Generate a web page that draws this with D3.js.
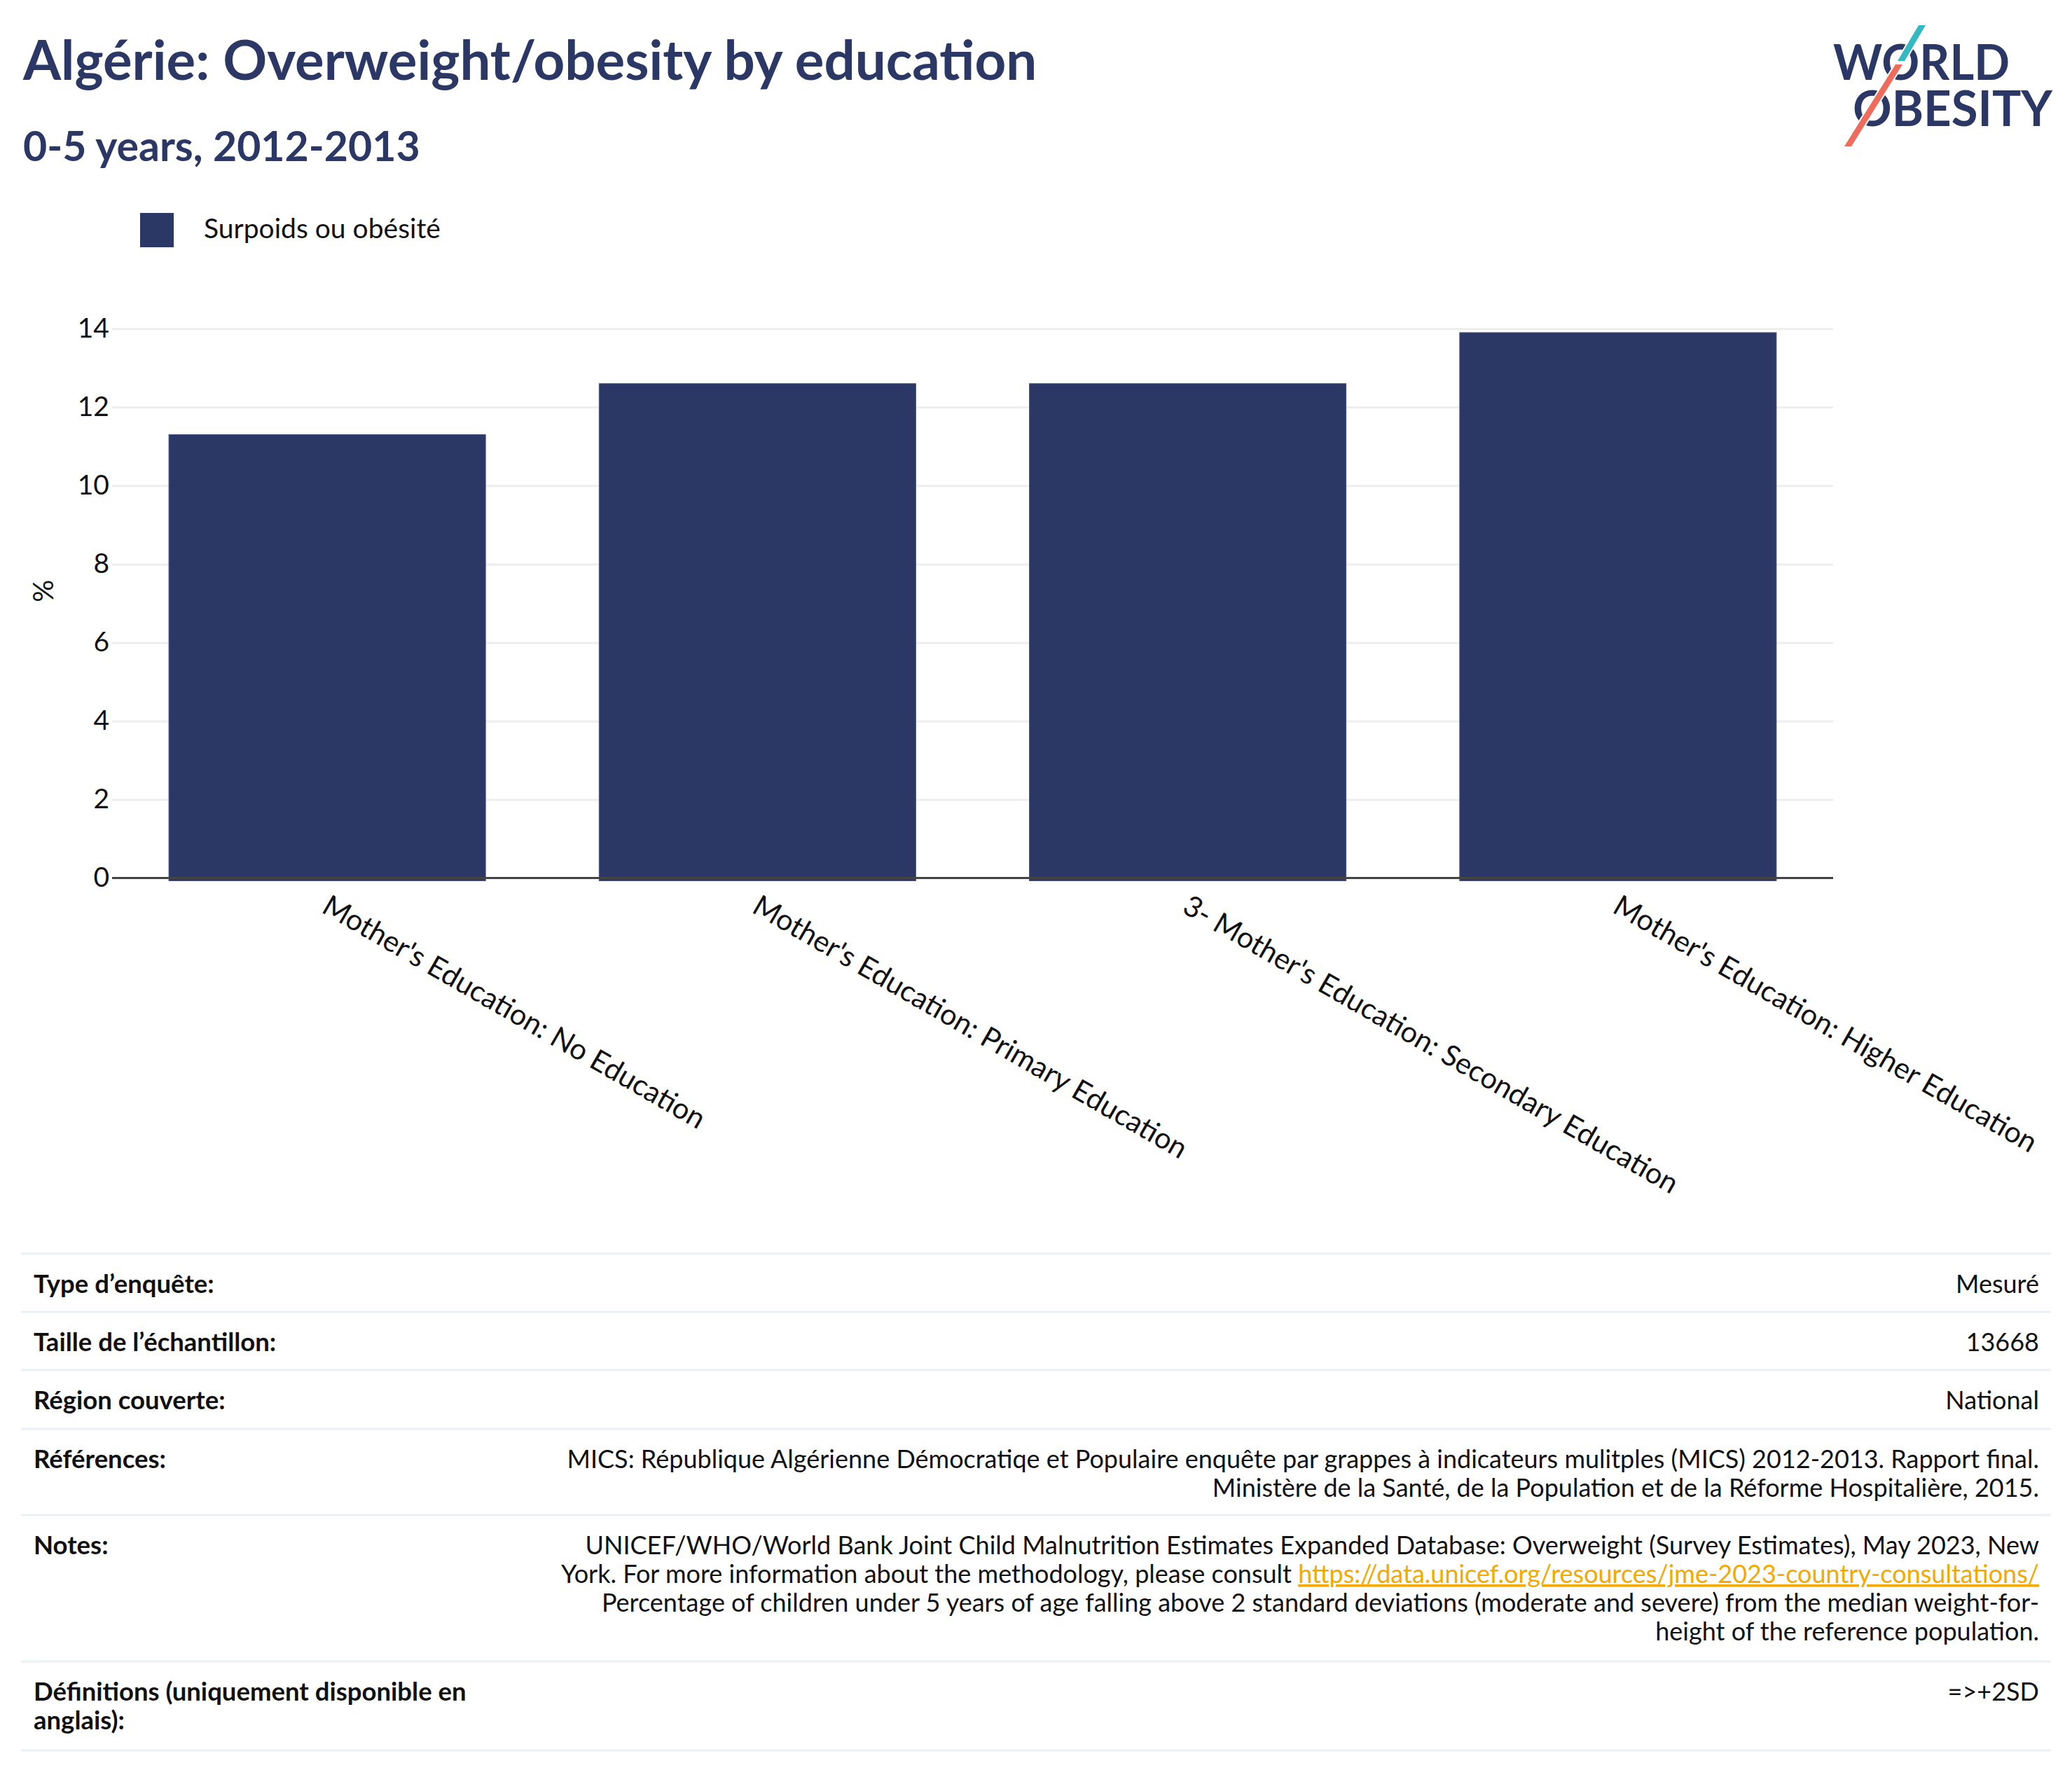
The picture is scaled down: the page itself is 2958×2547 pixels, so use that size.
<!DOCTYPE html>
<html>
<head>
<meta charset="utf-8">
<script src="https://cdn.jsdelivr.net/npm/d3@7"></script>
<style>
  body { margin: 0; background: #fff; }
  text { font-family: Lato, "Noto Sans", sans-serif; }
</style>
</head>
<body>
<div id="chart"></div>
<script>
//------------------------------------------------------
// Données
//------------------------------------------------------
const title = "Algérie: Overweight/obesity by education";
const subtitle = "0-5 years, 2012-2013";
const seriesName = "Surpoids ou obésité";

const categories = [
  "Mother's Education: No Education",
  "Mother's Education: Primary Education",
  "3- Mother's Education: Secondary Education",
  "Mother's Education: Higher Education"
];
const values = [11.3, 12.6, 12.6, 13.9];
const yTicks = [0, 2, 4, 6, 8, 10, 12, 14];

const tableLabels = [
  ["Type d’enquête:"],
  ["Taille de l’échantillon:"],
  ["Région couverte:"],
  ["Références:"],
  ["Notes:"],
  ["Définitions (uniquement disponible en", "anglais):"]
];
// chaque ligne = liste de morceaux [texte, lien?]
const tableValues = [
  [[["Mesuré"]]],
  [[["13668"]]],
  [[["National"]]],
  [
    [["MICS: République Algérienne Démocratiqe et Populaire enquête par grappes à indicateurs mulitples (MICS) 2012-2013. Rapport final."]],
    [["Ministère de la Santé, de la Population et de la Réforme Hospitalière, 2015."]]
  ],
  [
    [["UNICEF/WHO/World Bank Joint Child Malnutrition Estimates Expanded Database: Overweight (Survey Estimates), May 2023, New"]],
    [["York. For more information about the methodology, please consult "], ["https://data.unicef.org/resources/jme-2023-country-consultations/", true]],
    [["Percentage of children under 5 years of age falling above 2 standard deviations (moderate and severe) from the median weight-for-"]],
    [["height of the reference population."]]
  ],
  [[["=>+2SD"]]]
];
const rowHeights = [83, 83, 84, 123, 209, 127];

//------------------------------------------------------
// Mise en page
//------------------------------------------------------
const width = 2958;
const height = 2547;
const navy = "#2b3765";

const svg = d3.select("#chart").append("svg")
  .attr("width", width)
  .attr("height", height)
  .attr("viewBox", [0, 0, width, height]);

// Titres
svg.append("text")
  .attr("x", 33).attr("y", 114)
  .attr("fill", navy)
  .attr("font-size", 78)
  .attr("font-weight", 700)
  .text(title);

svg.append("text")
  .attr("x", 33).attr("y", 230)
  .attr("fill", navy)
  .attr("font-size", 59)
  .attr("font-weight", 700)
  .text(subtitle);

// Légende
svg.append("rect")
  .attr("x", 200).attr("y", 304)
  .attr("width", 48).attr("height", 49)
  .attr("fill", navy);

svg.append("text")
  .attr("x", 291).attr("y", 340)
  .attr("font-size", 39)
  .attr("fill", "#111")
  .text(seriesName);

//------------------------------------------------------
// Logo (un seul texte, deux lignes)
//------------------------------------------------------
const logo = svg.append("g");

const logoText = logo.append("text")
  .attr("font-family", "'Noto Sans', sans-serif")
  .attr("font-size", 70).attr("font-weight", 700)
  .attr("fill", navy);

logoText.append("tspan")
  .attr("x", 2617).attr("y", 114)
  .attr("textLength", 252).attr("lengthAdjust", "spacingAndGlyphs")
  .text("WORLD");

logoText.append("tspan")
  .attr("x", 2645).attr("y", 180)
  .attr("textLength", 285).attr("lengthAdjust", "spacingAndGlyphs")
  .text("OBESITY");

logo.append("polygon")
  .attr("points", "2739,36 2749,36 2719,87 2709,87")
  .attr("fill", "#35b9c0")
  .attr("stroke", "#fff").attr("stroke-width", 4)
  .attr("paint-order", "stroke");

logo.append("polygon")
  .attr("points", "2706,92 2716,92 2643,209 2633,209")
  .attr("fill", "#ef6b5b")
  .attr("stroke", "#fff").attr("stroke-width", 4)
  .attr("paint-order", "stroke");

//------------------------------------------------------
// Graphique
//------------------------------------------------------
const plot = { left: 160, right: 2617, top: 434, bottom: 1253.5 };

const x = d3.scaleBand()
  .domain(categories)
  .range([plot.left, plot.right])
  .paddingInner(0.264)
  .paddingOuter(0.132);

const y = d3.scaleLinear()
  .domain([0, 14.63])
  .range([plot.bottom, plot.top]);

// Grille + graduations
const yAxis = svg.append("g")
  .attr("transform", `translate(${plot.left},0)`)
  .call(d3.axisLeft(y)
    .tickValues(yTicks)
    .tickSize(-(plot.right - plot.left))
    .tickPadding(4)
    .tickFormat(d3.format("d")));

yAxis.select(".domain").remove();
yAxis.selectAll(".tick line")
  .attr("stroke", "#eeeeee")
  .attr("stroke-width", 3);
yAxis.selectAll(".tick text")
  .attr("font-family", "Lato, 'Noto Sans', sans-serif")
  .attr("font-size", 39)
  .attr("fill", "#111");

svg.append("text")
  .attr("transform", `translate(76,${(plot.top + plot.bottom) / 2}) rotate(-90)`)
  .attr("text-anchor", "middle")
  .attr("font-size", 40)
  .attr("fill", "#111")
  .text("%");

// Barres
svg.append("g")
  .selectAll("rect")
  .data(values)
  .join("rect")
  .attr("x", (d, i) => x(categories[i]))
  .attr("y", d => y(d))
  .attr("width", x.bandwidth())
  .attr("height", d => y(0) - y(d) + 4)
  .attr("fill", navy)
  .attr("stroke", "#4b5685")
  .attr("stroke-width", 1);

// Ligne zéro
svg.append("line")
  .attr("x1", plot.left).attr("x2", plot.right)
  .attr("y1", y(0)).attr("y2", y(0))
  .attr("stroke", "#444")
  .attr("stroke-width", 3);

// Étiquettes de l'axe X
const xAxis = svg.append("g")
  .attr("transform", `translate(0,${plot.bottom})`)
  .call(d3.axisBottom(x).tickSize(0).tickPadding(0));

xAxis.select(".domain").remove();
xAxis.selectAll(".tick text")
  .attr("font-family", "Lato, 'Noto Sans', sans-serif")
  .attr("font-size", 41.5)
  .attr("fill", "#111")
  .attr("text-anchor", "start")
  .attr("y", 0)
  .attr("dy", "0.72em")
  .attr("transform", "translate(5,22) rotate(30)");

//------------------------------------------------------
// Tableau
//------------------------------------------------------
const table = svg.append("g");
const tableLeft = 30;
const tableRight = 2928;
const valueRight = 2911;
const lineH = 41;

let rowTop = 1790;

svg.append("line")
  .attr("x1", tableLeft).attr("x2", tableRight)
  .attr("y1", rowTop).attr("y2", rowTop)
  .attr("stroke", "#ebf0f8").attr("stroke-width", 3);

tableLabels.forEach((label, i) => {

  const base = rowTop + 56;

  const lab = table.append("text")
    .attr("font-size", 36.5)
    .attr("font-weight", 700)
    .attr("fill", "#111");

  label.forEach((line, k) => {
    lab.append("tspan")
      .attr("x", 48)
      .attr("y", base + k * lineH)
      .text(line);
  });

  tableValues[i].forEach((parts, k) => {
    const t = table.append("text")
      .attr("x", valueRight)
      .attr("y", base + k * lineH)
      .attr("text-anchor", "end")
      .attr("font-size", 36)
      .attr("fill", "#111");

    parts.forEach(([txt, isLink]) => {
      const s = t.append("tspan").text(txt);
      if (isLink) {
        s.attr("fill", "#f2a900")
          .style("text-decoration", "underline");
      }
    });
  });

  rowTop += rowHeights[i];

  table.append("line")
    .attr("x1", tableLeft).attr("x2", tableRight)
    .attr("y1", rowTop).attr("y2", rowTop)
    .attr("stroke", "#ebf0f8").attr("stroke-width", 3);
});
</script>
</body>
</html>
